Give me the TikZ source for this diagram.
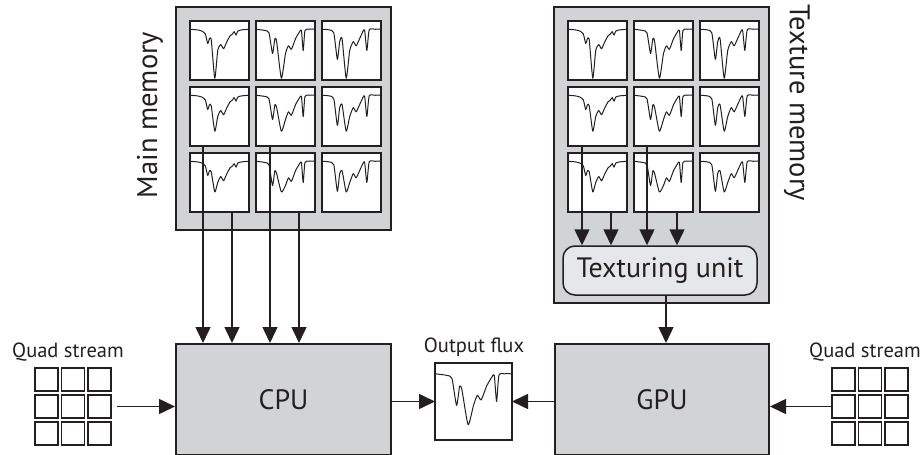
\documentclass[tikz,border=0pt]{standalone}
\usepackage{fontspec}
\setmainfont{PT Sans}
\usetikzlibrary{arrows.meta,calc}
\definecolor{ink}{HTML}{231F20}
\definecolor{memgray}{HTML}{D1D3D4}
\definecolor{unitgray}{HTML}{E6E7E8}
\newcommand\specA[1]{\draw[spec] plot[smooth,tension=.35] coordinates {(0,.14) (.12,.15) (.2,.17) (.26,.22) (.3,.38) (.33,.3) (.36,.32) (.42,#1) (.47,.5) (.52,.4) (.57,.47) (.62,.36) (.68,.25) (.72,.22) (.75,.18) (.78,.24) (.81,.17) (.88,.15) (1,.14)};}
\newcommand\specB[1]{\draw[spec] plot[smooth,tension=.35] coordinates {(0,.14) (.15,.16) (.22,.2) (.28,.55) (.32,.3) (.35,.35) (.43,#1) (.5,.55) (.55,.42) (.6,.48) (.67,.3) (.74,.18) (.77,.16) (.8,.5) (.83,.16) (.9,.14) (1,.14)};}
\newcommand\specC[1]{\draw[spec] plot[smooth,tension=.35] coordinates {(0,.14) (.12,.15) (.2,.2) (.26,.65) (.3,.35) (.34,.3) (.41,#1) (.47,.5) (.53,.35) (.58,.42) (.66,.25) (.72,.15) (.76,.5) (.8,.15) (.9,.14) (1,.14)};}
\begin{document}
\begin{tikzpicture}[x=1pt,y=-1pt,
  every node/.style={text=ink},
  membox/.style={draw=ink, fill=memgray, line width=2pt, inner sep=0pt},
  cell/.style={draw=ink, fill=white, line width=2pt, minimum size=59pt, inner sep=0pt, outer sep=0pt},
  spec/.style={draw=ink, line width=1pt, line join=round},
  quad/.style={draw=ink, fill=white, line width=1.5pt, minimum size=23pt, inner sep=0pt},
  proc/.style={draw=ink, fill=memgray, line width=2pt, inner sep=0pt, font=\fontsize{28}{32}\selectfont},
  unit/.style={draw=ink, fill=unitgray, line width=1.5pt, rounded corners=12pt, inner sep=0pt, font=\fontsize{28}{32}\selectfont},
  big/.style={font=\fontsize{28.5}{32}\selectfont, inner sep=0pt},
  small/.style={font=\fontsize{20.5}{24}\selectfont, inner sep=0pt},
  arr/.style={draw=ink, line width=1.5pt, -{Triangle[length=16pt,width=15pt]}}]
\useasboundingbox (0,0) rectangle (922,455);
% memory boxes
\node[membox, minimum width=215pt, minimum height=223pt] (mm) at (283.5,118.5) {};
\node[membox, minimum width=215pt, minimum height=296pt] (tm) at (661.5,155) {};
\node[big, rotate=90] (mml) at (150,115) {Main memory};
\node[big, rotate=-90] (tml) at (797,103) {Texture memory};
% cells
\foreach \c/\x in {1/219.5,2/285.5,3/351.5}
  \foreach \r/\y in {1/50.5,2/116.5,3/182.5}
    \node[cell] (m\r\c) at (\x,\y) {};
\foreach \c/\x in {1/597.5,2/663.5,3/729.5}
  \foreach \r/\y in {1/50.5,2/116.5,3/182.5}
    \node[cell] (t\r\c) at (\x,\y) {};
\foreach \r/\d in {1/.97,2/.75,3/.66}{
  \foreach \p in {m,t}{
    \begin{scope}[shift={(\p\r1.north west)},x=59pt,y=-59pt]\specA{\d}\end{scope}
    \begin{scope}[shift={(\p\r2.north west)},x=59pt,y=-59pt]\specB{\d}\end{scope}
    \begin{scope}[shift={(\p\r3.north west)},x=59pt,y=-59pt]\specC{\d}\end{scope}
  }
}
% texturing unit
\node[unit, minimum width=194pt, minimum height=49pt] (tu) at (660,270.5) {Texturing unit};
% processors
\node[proc, minimum width=215pt, minimum height=111pt] (cpu) at (283.5,399.5) {CPU};
\node[proc, minimum width=214pt, minimum height=111pt] (gpu) at (662,399.5) {GPU};
% output flux
\node[small] (fluxl) at (474,347) {Output flux};
\node[cell, minimum size=77pt] (flux) at (473.5,401.5) {};
\begin{scope}[shift={(flux.north west)},x=77pt,y=-77pt]\specB{.8}\end{scope}
% quad streams
\node[small] (qll) at (68,352) {Quad stream};
\node[small] (qrl) at (865,352) {Quad stream};
\foreach \c/\x in {1/46.5,2/73,3/99.5}
  \foreach \r/\y in {1/379.5,2/406.5,3/433.5}
    \node[quad] (qL\r\c) at (\x,\y) {};
\foreach \c/\x in {1/843.5,2/870,3/896.5}
  \foreach \r/\y in {1/379.5,2/406.5,3/433.5}
    \node[quad] (qR\r\c) at (\x,\y) {};
% arrows main memory -> CPU
\coordinate (ma1) at ([xshift=13pt]m21.south west);
\coordinate (ma2) at ([xshift=42pt]m31.south west);
\coordinate (ma3) at ([xshift=14pt]m22.south west);
\coordinate (ma4) at ([xshift=43pt]m32.south west);
\foreach \a in {ma1,ma2,ma3,ma4} \draw[arr] (\a) -- (\a |- cpu.north);
% arrows texture memory -> texturing unit
\coordinate (ta1) at ([xshift=14pt]t21.south west);
\coordinate (ta2) at ([xshift=43pt]t31.south west);
\coordinate (ta3) at ([xshift=13pt]t22.south west);
\coordinate (ta4) at ([xshift=43pt]t32.south west);
\foreach \a in {ta1,ta2,ta3,ta4} \draw[arr] (\a) -- (\a |- tu.north);
% texturing unit -> GPU
\coordinate (tg) at ([xshift=6pt]tu.south);
\draw[arr] (tg) -- (tg |- gpu.north);
% CPU/GPU -> output flux
\draw[arr] (flux.west -| cpu.east) -- (flux.west);
\draw[arr] (flux.east -| gpu.west) -- (flux.east);
% quad streams -> processors
\draw[arr] ([xshift=5pt]qL23.east) -- (qL23.east -| cpu.west);
\draw[arr] (qR21.west) -- (qR21.west -| gpu.east);
\end{tikzpicture}
\end{document}
